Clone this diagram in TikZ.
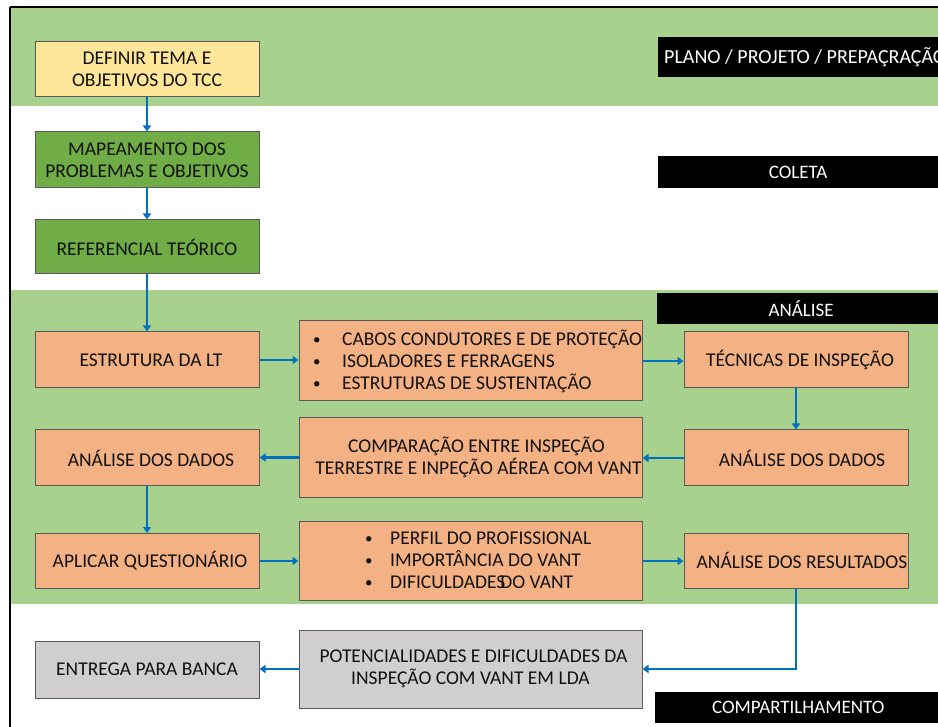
\documentclass[tikz,border=0pt]{standalone}
\usepackage{fontspec}
\setmainfont{Carlito}
\usetikzlibrary{arrows.meta}
\definecolor{bandgreen}{HTML}{A9D18E}
\definecolor{boxgreen}{HTML}{70AD47}
\definecolor{boxyellow}{HTML}{FFE699}
\definecolor{boxorange}{HTML}{F4B183}
\definecolor{boxgray}{HTML}{D0CECE}
\definecolor{arrowblue}{HTML}{0070C0}
\definecolor{boxline}{HTML}{595959}
\definecolor{txt}{HTML}{111111}
\newcommand{\bul}[1]{\makebox[#1][l]{\raisebox{0.5pt}{\fontsize{15}{22}\selectfont •}}}
\begin{document}
\begin{tikzpicture}[x=1pt,y=-1pt,
  box/.style={draw=boxline, line width=1pt, rectangle, inner sep=0pt, text=txt, align=center,
    font=\fontsize{19.5}{22}\selectfont},
  narrowbox/.style={box, minimum width=224pt, minimum height=56pt},
  widebox/.style={box, minimum width=343pt, minimum height=79pt},
  blk/.style={fill=black, rectangle, inner sep=0pt, text=white, font=\fontsize{19}{22}\selectfont, anchor=north west},
  listtext/.style={anchor=west, inner sep=0pt, align=left, text=txt, font=\fontsize{19.5}{22}\selectfont},
  arr/.style={draw=arrowblue, line width=2.2pt, -{Triangle[length=6pt,width=8pt]}}
]
\useasboundingbox (0,0) rectangle (938,727);
\clip (0,0) rectangle (938,727);
\fill[white] (0,0) rectangle (938,727);
% bands
\fill[bandgreen] (11,8) rectangle (938,106);
\fill[bandgreen] (11,290) rectangle (938,604);
% frame
\draw[line width=2pt] (10,7) -- (938,7);
\draw[line width=2pt] (10,7) -- (10,727);

% stage labels
\node[blk, minimum width=290pt, minimum height=40pt] (plano) at (658,37) {};
\node[anchor=west, inner sep=0pt, text=white, font=\fontsize{20}{22}\selectfont] (planot) at (664,57) {PLANO / PROJETO / PREPAÇRAÇÃO};
\node[blk, minimum width=280pt, minimum height=32pt] (coleta) at (658,156) {COLETA};
\node[blk, minimum width=288pt, minimum height=31pt] (analise) at (657,293) {ANÁLISE};
\node[blk, minimum width=286pt, minimum height=31pt] (compart) at (655,692) {COMPARTILHAMENTO};

% left column
\node[narrowbox, fill=boxyellow, minimum height=55pt] (def) at (147,69.5) {DEFINIR TEMA E\\OBJETIVOS DO TCC};
\node[narrowbox, fill=boxgreen] (map) at (147,160) {MAPEAMENTO DOS\\PROBLEMAS E OBJETIVOS};
\node[narrowbox, fill=boxgreen, minimum height=54pt] (ref) at (147,247) {REFERENCIAL TEÓRICO};
\node[narrowbox, fill=boxorange] (est) at (147,360) {\hspace*{8pt}ESTRUTURA DA LT};
\node[narrowbox, fill=boxorange] (adl) at (147,458) {\hspace*{8pt}ANÁLISE DOS DADOS};
\node[narrowbox, fill=boxorange, minimum height=55pt] (apl) at (147,561) {\hspace*{6pt}APLICAR QUESTIONÁRIO};
\node[narrowbox, fill=boxgray, minimum height=57pt] (ent) at (147,669.5) {ENTREGA PARA BANCA};

% middle column
\node[widebox, fill=boxorange, minimum height=80pt] (b1) at (470.5,361) {};
\node[listtext] (b1t) at (313,361) {\bul{29pt}CABOS CONDUTORES E DE PROTEÇÃO\\
\bul{29pt}ISOLADORES E FERRAGENS\\
\bul{29pt}ESTRUTURAS DE SUSTENTAÇÃO};
\node[widebox, fill=boxorange] (cmp) at (470.5,457.5) {\hspace*{12pt}COMPARAÇÃO ENTRE INSPEÇÃO\\\hspace*{16pt}TERRESTRE E INPEÇÃO AÉREA COM VANT};
\node[widebox, fill=boxorange] (b2) at (470.5,561) {};
\node[listtext] (b2t) at (365,560) {\bul{25pt}PERFIL DO PROFISSIONAL\\
\bul{25pt}IMPORTÂNCIA DO VANT\\
\bul{25pt}DIFICULDADES\hspace*{-5pt}DO VANT};
\node[widebox, fill=boxgray, minimum height=78pt] (pot) at (470.5,669) {\hspace*{6pt}POTENCIALIDADES E DIFICULDADES DA\\INSPEÇÃO COM VANT EM LDA};

% right column
\node[narrowbox, fill=boxorange] (tec) at (796,360) {\hspace*{8pt}TÉCNICAS DE INSPEÇÃO};
\node[narrowbox, fill=boxorange] (adr) at (796,458) {\hspace*{12pt}ANÁLISE DOS DADOS};
\node[narrowbox, fill=boxorange, minimum height=55pt] (res) at (796,560.5) {\hspace*{12pt}ANÁLISE DOS RESULTADOS};

% connectors
\draw[arr] (def.south) -- (map.north);
\draw[arr] (map.south) -- (ref.north);
\draw[arr] (ref.south) -- (est.north);
\draw[arr] (est.east) -- (est.east -| b1.west);
\draw[arr] (b1.east) -- (b1.east -| tec.west);
\draw[arr] (tec.south) -- (adr.north);
\draw[arr] (adr.west) -- (adr.west -| cmp.east);
\draw[arr] (cmp.west) -- (cmp.west -| adl.east);
\draw[arr] (adl.south) -- (apl.north);
\draw[arr] (apl.east) -- (apl.east -| b2.west);
\draw[arr] (b2.east) -- (b2.east -| res.west);
\draw[arr] (res.south) |- (pot.east);
\draw[arr] (pot.west) -- (pot.west -| ent.east);
\end{tikzpicture}
\end{document}
